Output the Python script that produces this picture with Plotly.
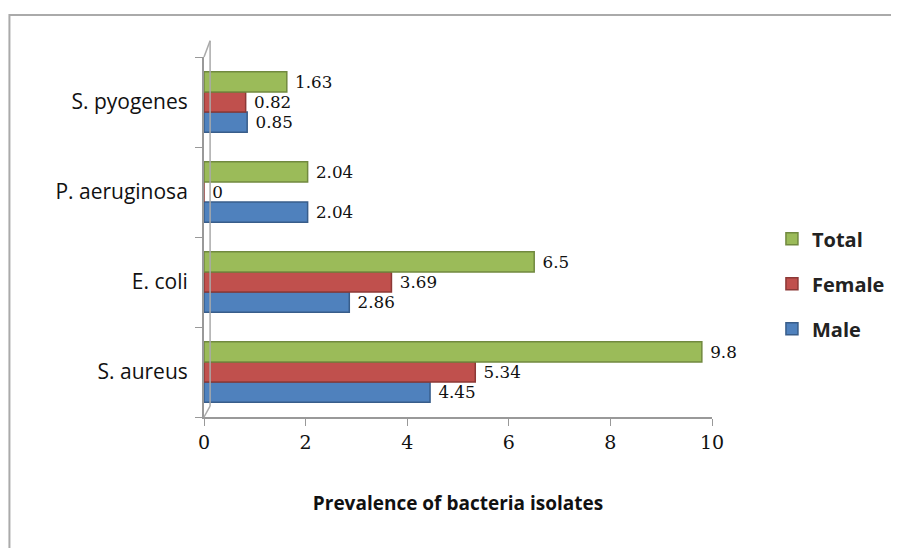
import plotly.graph_objects as go

categories = ["S. aureus", "E. coli", "P. aeruginosa", "S. pyogenes"]
male = [4.45, 2.86, 2.04, 0.85]
female = [5.34, 3.69, 0, 0.82]
total = [9.8, 6.5, 2.04, 1.63]
x_ticks = [0, 2, 4, 6, 8, 10]

series = [
    ("Male", male, "#4F81BD", "#385D8A", 3),
    ("Female", female, "#C0504D", "#8C3836", 2),
    ("Total", total, "#9BBB59", "#71893F", 1),
]

fig = go.Figure()
for name, vals, col, edge, rank in series:
    fig.add_trace(go.Bar(
        y=categories, x=vals, name=name, orientation="h", legendgroup=name,
        legendrank=rank,
        marker=dict(color=col, line=dict(color=edge, width=1.5)),
        text=[f" {v:g}" for v in vals], textposition="outside",
        textfont=dict(family="DejaVu Serif", size=20, color="#111"),
        cliponaxis=False,
    ))

fig.update_layout(
    width=899, height=548,
    barmode="group", bargap=0.33, bargroupgap=0,
    paper_bgcolor="white", plot_bgcolor="white",
    margin=dict(l=196, r=195, t=49, b=139, autoexpand=False),
    showlegend=True,
    legend=dict(traceorder="grouped", x=1.118, y=0.37, xanchor="left", yanchor="middle",
                font=dict(family="Open Sans", size=20, color="#222", weight="bold"),
                itemwidth=30, tracegroupgap=16),
    xaxis=dict(range=[0, 10], tickvals=x_ticks, showgrid=False, zeroline=False,
               showline=True, linecolor="#999", linewidth=2, ticks="outside",
               ticklen=7, tickcolor="#999", automargin=False,
               tickfont=dict(family="DejaVu Serif", size=19, color="#111"),
               title=dict(text="<b>Prevalence of bacteria isolates</b>",
                          font=dict(family="Open Sans", size=19, color="#111"),
                          standoff=45)),
    yaxis=dict(showgrid=False, showline=True, linecolor="#999", linewidth=2,
               ticks="outside", ticklen=7, tickcolor="#999", tickson="boundaries",
               automargin=False,
               tickfont=dict(family="Open Sans", size=21, color="#111"),
               ticklabelstandoff=10),
    shapes=[
        dict(type="rect", xref="paper", yref="paper", x0=-0.383, x1=2, y0=-1, y1=1.117,
             line=dict(color="#aaa", width=2)),
        # 3-D back wall edges
        dict(type="line", xref="paper", yref="paper", x0=0.012, x1=0.012, y0=0.03, y1=1.045,
             line=dict(color="#aaa", width=1.5)),
        dict(type="line", xref="paper", yref="paper", x0=0.0, x1=0.012, y0=1.0, y1=1.045,
             line=dict(color="#aaa", width=1.5)),
        dict(type="line", xref="paper", yref="paper", x0=0.0, x1=0.012, y0=0.0, y1=0.03,
             line=dict(color="#aaa", width=1.5)),
    ],
)

fig.write_html("out.html")
